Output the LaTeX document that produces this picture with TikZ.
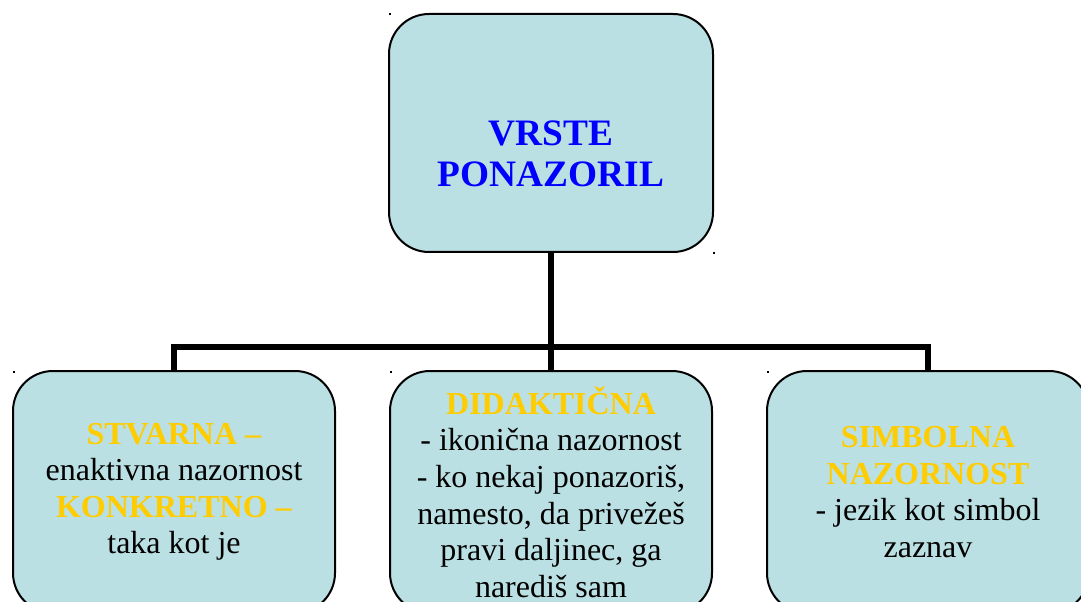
\documentclass[tikz,border=0pt]{standalone}
\usepackage{fontspec}
\setmainfont{Liberation Serif}
\usepackage[dvipsnames,svgnames]{xcolor}
\definecolor{boxfill}{RGB}{187,224,227}
\definecolor{titleblue}{RGB}{0,0,255}
\definecolor{headgold}{RGB}{255,204,0}

\begin{document}
\begin{tikzpicture}[x=0.75pt,y=-0.75pt,
    kind/.style={draw=black,line width=1.5pt,fill=boxfill,rounded corners=30pt,
      minimum width=241.5pt,minimum height=181.5pt,align=center,inner sep=0pt,
      font=\fontsize{24}{27.4}\selectfont},
    link/.style={line width=4.5pt}]

    \useasboundingbox (0,0) rectangle (1081,602);
    \clip (0,0) rectangle (1081,602);

    \node[kind,minimum width=243pt,minimum height=178.5pt] (kinds) at (551,133) {};
    \node[align=center,font=\fontsize{28}{30.75}\selectfont\bfseries,text=titleblue]
      (kindstitle) at (551,154) {VRSTE\\PONAZORIL};

    \node[kind] (real) at (174,492)
      {\textcolor{headgold}{\textbf{STVARNA –}}\\enaktivna nazornost\\
       \textcolor{headgold}{\textbf{KONKRETNO –}}\\taka kot je};

    \node[kind] (didactic) at (551,492)
      {\textcolor{headgold}{\textbf{DIDAKTIČNA}}\\- ikonična nazornost\\
       - ko nekaj ponazoriš,\\namesto, da privežeš\\pravi daljinec, ga\\narediš sam};

    \node[kind] (symbolic) at (928,492)
      {\textcolor{headgold}{\textbf{SIMBOLNA}}\\\textcolor{headgold}{\textbf{NAZORNOST}}\\
       - jezik kot simbol\\zaznav};

    \coordinate (bus) at (551,347);

    \draw[link] (kinds.south) -- (didactic.north);
    \draw[link] (real.north) |- (bus) -| (symbolic.north);

    \foreach \px/\py in {389/13,713/252,13/371,390/371,767/371}
      \fill (\px,\py) rectangle ++(2,2);

  \end{tikzpicture}
\end{document}
